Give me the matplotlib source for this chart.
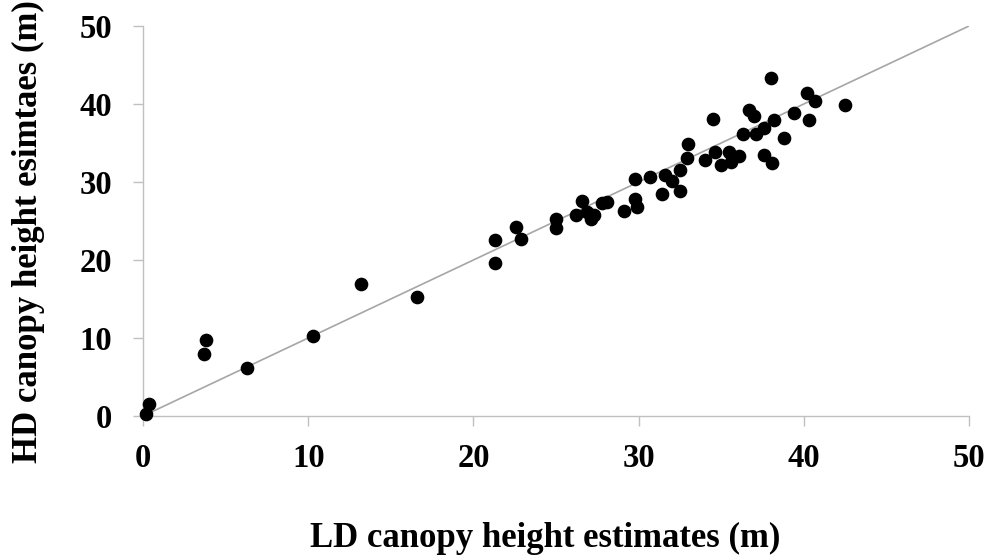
"""LD vs HD canopy height scatter with 1:1 line"""

import matplotlib
matplotlib.use("Agg")
import matplotlib.pyplot as plt

plt.rcParams["font.family"] = ["Liberation Serif", "DejaVu Serif"]
plt.rcParams["font.weight"] = "bold"

# LD (x) and HD (y) canopy height estimates
ld_height = [0.35, 0.2, 3.8, 3.7, 6.3, 10.3, 13.2, 16.6, 21.3, 21.3,
             22.9, 22.6, 25.0, 25.0, 26.2, 26.6, 26.9, 27.3, 27.1, 27.8,
             28.1, 29.1, 29.8, 29.9, 29.8, 30.7, 31.4, 31.6, 32.0, 32.5,
             32.5, 32.9, 33.0, 34.0, 34.5, 34.6, 35.0, 35.5, 35.6, 36.1,
             36.3, 36.7, 37.0, 37.1, 37.6, 37.6, 38.1, 38.2, 38.0, 38.8,
             39.4, 40.2, 40.3, 40.7, 42.5]
hd_height = [1.5, 0.3, 9.7, 7.9, 6.2, 10.3, 16.9, 15.3, 22.6, 19.6,
             22.7, 24.2, 25.2, 24.1, 25.8, 27.6, 26.1, 25.8, 25.2, 27.3,
             27.5, 26.3, 27.8, 26.8, 30.4, 30.6, 28.4, 30.9, 30.1, 31.5,
             28.8, 33.1, 34.9, 32.8, 38.1, 33.9, 32.2, 33.9, 32.6, 33.3,
             36.2, 39.2, 38.5, 36.2, 36.9, 33.4, 32.5, 38.0, 43.3, 35.6,
             38.9, 41.4, 37.9, 40.4, 39.9]

one_to_one = [0, 50]
ticks = [0, 10, 20, 30, 40, 50]

AXIS_GRAY = "#c0c0c0"
LINE_GRAY = "#a6a6a6"

fig = plt.figure(figsize=(9.9, 5.57), dpi=100)
ax = fig.add_axes([143 / 990, 1 - 416 / 557, 826 / 990, 390 / 557])

ax.plot(one_to_one, one_to_one, color=LINE_GRAY, linewidth=1.2, zorder=2)
ax.scatter(ld_height, hd_height, s=78, color="black", zorder=3, clip_on=False)

ax.set_xlim(0, 50)
ax.set_ylim(0, 50)
ax.set_xticks(ticks)
ax.set_yticks(ticks)
ax.set_xticklabels([str(t) for t in ticks], fontsize=23.5, fontweight="bold")
ax.set_yticklabels([str(t) for t in ticks], fontsize=23.5, fontweight="bold")

for side in ["top", "right"]:
    ax.spines[side].set_visible(False)
for side in ["left", "bottom"]:
    ax.spines[side].set_color(AXIS_GRAY)
    ax.spines[side].set_linewidth(1.0)
ax.tick_params(axis="both", direction="out", length=7.2, width=1.0, color=AXIS_GRAY)
ax.tick_params(axis="x", pad=12)
ax.tick_params(axis="y", pad=15)

fig.text(545 / 990, 1 - 547 / 557, "LD canopy height estimates (m)",
         ha="center", va="baseline", fontsize=25, fontweight="bold")
fig.text(28 / 990, 1 - 232 / 557, "HD canopy height esimtaes (m)",
         ha="center", va="center", rotation=90, fontsize=25, fontweight="bold")

fig.savefig("out.png", dpi=100)
plt.close(fig)
